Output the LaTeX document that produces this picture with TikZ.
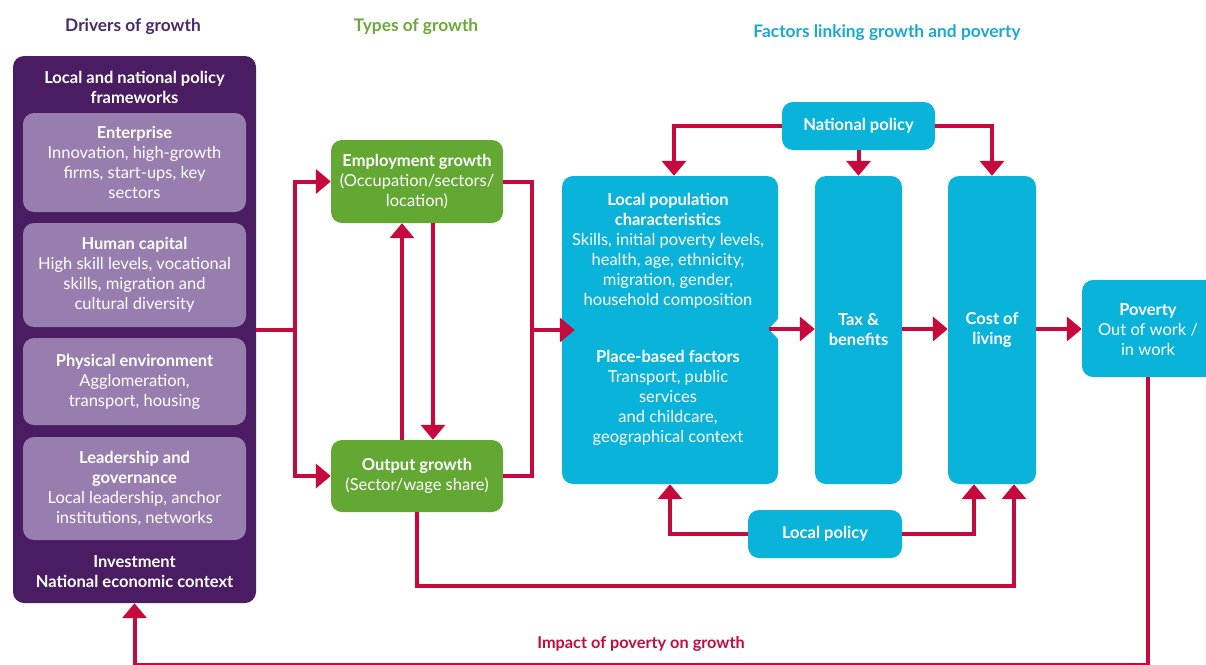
\documentclass[tikz,border=0pt]{standalone}
\usepackage{fontspec}
\setmainfont{Lato}
\usetikzlibrary{arrows.meta}
\definecolor{dpurple}{HTML}{4A1D63}
\definecolor{lpurple}{HTML}{987EAF}
\definecolor{tpurple}{HTML}{4B2A68}
\definecolor{grn}{HTML}{63A833}
\definecolor{tgrn}{HTML}{6BAA35}
\definecolor{cyn}{HTML}{0AB3D9}
\definecolor{tcyn}{HTML}{1AA8D4}
\definecolor{crim}{HTML}{C70A3E}
\begin{document}
\begin{tikzpicture}[x=1pt,y=-1pt,
  box/.style={rounded corners=11pt, inner sep=0pt, align=center, text=white,
    font=\fontsize{16.5}{20}\selectfont},
  outerbox/.style={box, fill=dpurple},
  innerbox/.style={box, fill=lpurple},
  greenbox/.style={box, fill=grn},
  cyanbox/.style={box, fill=cyn},
  txt/.style={align=center, text=white, inner sep=0pt, font=\fontsize{16.5}{20}\selectfont},
  bold/.style={font=\fontsize{16.5}{20}\selectfont\bfseries},
  title/.style={inner sep=0pt, font=\fontsize{17.3}{20}\selectfont\bfseries},
  plain/.style={crim, line width=4pt},
  link/.style={crim, line width=4pt, -{Triangle[width=24pt,length=15pt]}}
]
\useasboundingbox (0,0) rectangle (1206,664);
\clip (0,0) rectangle (1206,664);

% titles
\node[title, text=tpurple] (t1) at (133,27) {Drivers of growth};
\node[title, text=tgrn] (t2) at (416,27) {Types of growth};
\node[title, text=tcyn] (t3) at (887,33) {Factors linking growth and poverty};

% drivers
\node[outerbox, minimum width=243pt, minimum height=547pt] (drivers) at (134.5,329.5) {};
\node[txt, bold] (lnpf) at (134.5,87) {Local and national policy\\frameworks};
\node[innerbox, minimum width=223pt, minimum height=99pt] (ent) at (134.5,162.5)
  {\textbf{Enterprise}\\Innovation, high-growth\\firms, start-ups, key\\sectors};
\node[innerbox, minimum width=223pt, minimum height=104pt] (hum) at (134.5,275)
  {\textbf{Human capital}\\High skill levels, vocational\\skills, migration and\\cultural diversity};
\node[innerbox, minimum width=223pt, minimum height=87pt] (phy) at (134.5,381.5)
  {\textbf{Physical environment}\\Agglomeration,\\transport, housing};
\node[innerbox, minimum width=223pt, minimum height=103pt] (lead) at (134.5,488.5)
  {\textbf{Leadership and}\\\textbf{governance}\\Local leadership, anchor\\institutions, networks};
\node[txt, bold] (inv) at (134.5,572) {Investment\\National economic context};

% types of growth
\node[greenbox, minimum width=172pt, minimum height=83pt] (emp) at (417,181.5)
  {\textbf{Employment growth}\\(Occupation/sectors/\\location)};
\node[greenbox, minimum width=172pt, minimum height=72pt] (out) at (417,476)
  {\textbf{Output growth}\\(Sector/wage share)};

% factors
\node[cyanbox, bold, minimum width=153pt, minimum height=48pt] (natp) at (858.5,126) {National policy};
\node[cyanbox, minimum width=216pt, minimum height=308pt] (locpop) at (670,330) {};
\node[txt] (lp1) at (668,251)
  {\textbf{Local population}\\\textbf{characteristics}\\Skills, initial poverty levels,\\health, age, ethnicity,\\migration, gender,\\household composition};
\node[txt] (lp2) at (668,398)
  {\textbf{Place-based factors}\\Transport, public\\services\\and childcare,\\geographical context};
\node[cyanbox, bold, minimum width=87pt, minimum height=308pt] (tax) at (858.5,330) {Tax \&\\benefits};
\node[cyanbox, bold, minimum width=88pt, minimum height=308pt] (cost) at (992,330) {Cost of\\living};
\node[cyanbox, minimum width=134pt, minimum height=97pt] (pov) at (1149,328.5) {};
\node[txt] (povt) at (1148,330) {\textbf{Poverty}\\Out of work /\\in work};
\node[cyanbox, bold, minimum width=154pt, minimum height=48pt] (locpol) at (825,534) {Local policy};

% notch in local population box
\fill[white] (769,329) -- (779,318) -- (779,340) -- cycle;

% connectors: drivers to types
\draw[plain] (drivers.east) -- ++(39,0) coordinate (j1);
\draw[link] (j1) |- (emp.west);
\draw[link] (j1) |- (out.west);

% types to factors
\draw[plain] (emp.east) -| (532,330) coordinate (j2) |- (out.east);
\draw[link] (j2) -- ([xshift=13pt]locpop.west);

% between types
\draw[link] ([xshift=-15pt]out.north) -- ([xshift=-15pt]emp.south);
\draw[link] ([xshift=16pt]emp.south) -- ([xshift=16pt]out.north);

% national policy
\draw[link] (natp.west) -| ([xshift=4pt]locpop.north);
\draw[link] (natp.south) -- (tax.north);
\draw[link] (natp.east) -| (cost.north);

% chain
\draw[link] (769,329) -- (tax.west |- 0,329);
\draw[link] (tax.east |- 0,329) -- (cost.west |- 0,329);
\draw[link] (cost.east |- 0,329) -- (pov.west |- 0,329);

% local policy
\draw[link] (locpol.west) -| (locpop.south);
\draw[link] (locpol.east) -| ([xshift=-18pt]cost.south);

% output to cost of living
\draw[link] (out.south) -- ++(0,74) -| ([xshift=22pt]cost.south);

% poverty back to drivers
\draw[link] ([xshift=-1pt]pov.south) -- ([xshift=-1pt]pov.south |- 0,665) -| (drivers.south);
\node[title, text=crim, font=\fontsize{16.3}{20}\selectfont\bfseries] (imp) at (641,644) {Impact of poverty on growth};
\end{tikzpicture}
\end{document}
